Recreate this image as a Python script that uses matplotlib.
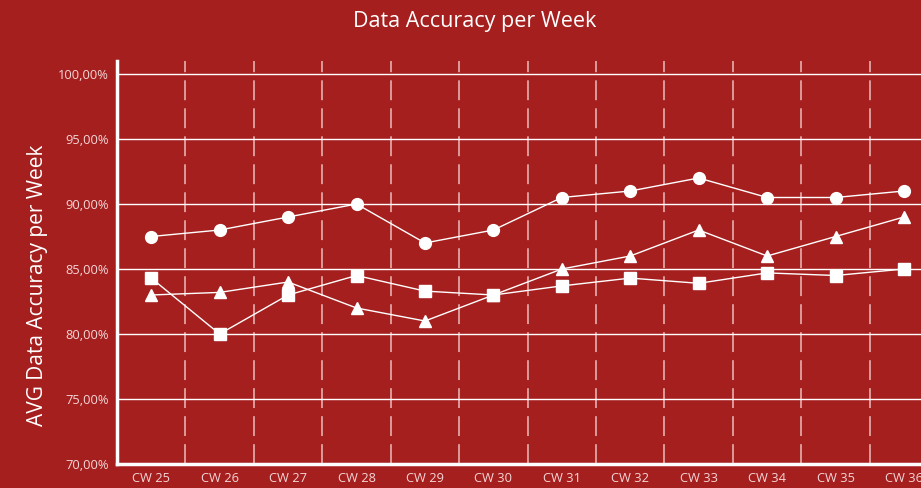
import matplotlib
matplotlib.use("Agg")
import matplotlib.pyplot as plt
from matplotlib.ticker import FuncFormatter

weeks = ["CW 25", "CW 26", "CW 27", "CW 28", "CW 29", "CW 30",
         "CW 31", "CW 32", "CW 33", "CW 34", "CW 35", "CW 36"]
series_circle = [87.5, 88.0, 89.0, 90.0, 87.0, 88.0, 90.5, 91.0, 92.0, 90.5, 90.5, 91.0]
series_triangle = [83.0, 83.2, 84.0, 82.0, 81.0, 83.0, 85.0, 86.0, 88.0, 86.0, 87.5, 89.0]
series_square = [84.3, 80.0, 83.0, 84.5, 83.3, 83.0, 83.7, 84.3, 83.9, 84.7, 84.5, 85.0]
yticks = [70, 75, 80, 85, 90, 95, 100]

BG = "#A61F1F"
FG = "#FFFFFF"
LBL = "#F3D6D6"

plt.rcParams['font.family'] = ['Open Sans', 'DejaVu Sans']

fig = plt.figure(figsize=(9.21, 4.88), dpi=100, facecolor=BG)
ax = fig.add_axes([117/921, 24/488, 1 - 117/921, (464-61)/488])
ax.set_facecolor(BG)

x = list(range(len(weeks)))
for vals, m, ms in [(series_circle, 'o', 8.5), (series_triangle, '^', 8.5), (series_square, 's', 8)]:
    ax.plot(x, vals, color=FG, lw=1.0, marker=m, markersize=ms,
            markerfacecolor=FG, markeredgecolor=FG, zorder=4)

ax.set_ylim(70, 101)
ax.set_xlim(-0.5, 11.248)
ax.set_yticks(yticks)
ax.yaxis.set_major_formatter(FuncFormatter(lambda v, p: f"{v:.2f}%".replace('.', ',')))
ax.set_xticks(x)
ax.set_xticklabels(weeks)

for yv in yticks[1:]:
    ax.axhline(yv, color=FG, lw=1.0, zorder=2)
for i in range(len(weeks)):
    ax.axvline(i + 0.5, color="#F0C4C4", lw=1.3, ls=(0, (11, 4.5)), alpha=0.8, zorder=1)

for s in ['top', 'right']:
    ax.spines[s].set_visible(False)
for s in ['left', 'bottom']:
    ax.spines[s].set_color(FG)
    ax.spines[s].set_linewidth(2.5)
ax.spines['bottom'].set_zorder(5)

ax.tick_params(axis='both', length=0, colors=LBL, labelsize=9.3)
ax.tick_params(axis='y', pad=6)
ax.tick_params(axis='x', pad=6)

fig.text(38/921, 1 - 285/488, "AVG Data Accuracy per Week", color=FG, fontsize=15,
         rotation=90, ha='center', va='center')
fig.text(475/921, 1 - 22/488, "Data Accuracy per Week", color=FG, fontsize=15.5,
         ha='center', va='center')

fig.savefig("out.png", dpi=100, facecolor=BG)
